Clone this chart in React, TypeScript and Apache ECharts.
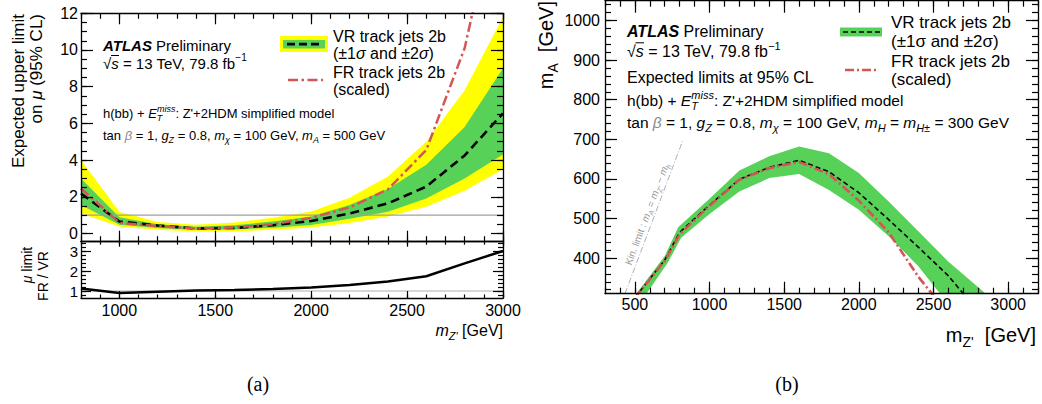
import React, { useEffect, useRef } from 'react';
import * as echarts from 'echarts';

// ---------- Data: panel (a) ----------
const massA = [800, 1000, 1200, 1400, 1600, 1800, 2000, 2200, 2400, 2600, 2800, 3000];
const vrExp = [2.18, 0.65, 0.43, 0.27, 0.3, 0.45, 0.68, 1.09, 1.64, 2.55, 4.25, 6.55];
const vr1Up = [3.0, 0.88, 0.5, 0.36, 0.45, 0.65, 0.92, 1.55, 2.42, 3.75, 5.8, 9.0];
const vr1Dn = [1.55, 0.48, 0.3, 0.19, 0.22, 0.31, 0.46, 0.8, 1.18, 1.9, 3.0, 4.3];
const vr2Up = [4.0, 1.18, 0.62, 0.47, 0.6, 0.85, 1.2, 1.95, 3.1, 5.0, 7.8, 11.8];
const vr2Dn = [1.09, 0.38, 0.2, 0.1, 0.11, 0.2, 0.33, 0.57, 0.93, 1.45, 2.33, 3.5];
const frExp = [2.45, 0.58, 0.4, 0.27, 0.33, 0.5, 0.85, 1.42, 2.4, 4.55, 10.1, 19.5];
const ratio = [1.13, 0.9, 0.96, 1.02, 1.05, 1.1, 1.18, 1.3, 1.47, 1.74, 2.38, 3.0];
const refX = [800, 3000];
const refY = [1, 1];

// ---------- Data: panel (b) ----------
const vrX = [500, 700, 800, 1000, 1200, 1400, 1600, 1800, 2000, 2200, 2400, 2600, 2800];
const vrY = [300, 395, 465, 534, 599, 629, 647, 618, 565, 497, 427, 355, 265];
const outerX = [490, 700, 790, 1000, 1200, 1400, 1600, 1800, 2000, 2200, 2400, 2600, 2800, 3000];
const outerY = [300, 405, 478, 550, 621, 657, 682, 665, 615, 543, 467, 391, 326, 262];
const innerX = [560, 720, 810, 1000, 1200, 1400, 1600, 1800, 2000, 2200, 2400, 2600];
const innerY = [300, 388, 451, 511, 568, 602, 612, 572, 522, 455, 379, 283];
const frX = [500, 700, 800, 1000, 1200, 1400, 1600, 1800, 2000, 2200, 2400, 2500, 2550];
const frY = [300, 393, 460, 532, 598, 627, 643, 612, 545, 465, 352, 305, 280];
const kinX = [434, 824];
const kinY = [310, 700];

// ---------- Ticks ----------
const aXMajor = [1000, 1500, 2000, 2500, 3000];
const aYMajor = [0, 2, 4, 6, 8, 10, 12];
const rYMajor = [1, 2, 3];
const bXMajor = [500, 1000, 1500, 2000, 2500, 3000];
const bYMajor = [400, 500, 600, 700, 800, 900, 1000];

function steps(a: number, b: number, s: number) {
  const r: number[] = [];
  for (let v = a; v <= b + 1e-9; v += s) r.push(Math.round(v * 1000) / 1000);
  return r;
}
const aXMinor = steps(800, 3000, 100);
const aYMinor = steps(0, 12, 0.5);
const rYMinor = steps(0.8, 3.4, 0.2);
const bXMinor = steps(300, 3200, 100);
const bYMinor = steps(320, 1040, 20);

const FONT = "'Liberation Sans', Arial, Helvetica, sans-serif";
const SERIF = "'Liberation Serif', 'DejaVu Serif', serif";
const GREEN = '#58d158';
const YELLOW = '#ffff00';
const RED = '#d45555';

function rich(fs: number, color = '#000', family = FONT, lhk = 1.4) {
  const lh = Math.round(fs * lhk);
  const s = Math.round(fs * 0.68);
  const base = { fontFamily: family, fill: color, color };
  return {
    n: { ...base, fontSize: fs, lineHeight: lh },
    i: { ...base, fontSize: fs, lineHeight: lh, fontStyle: 'italic' },
    b: { ...base, fontSize: fs, lineHeight: lh, fontStyle: 'italic', fontWeight: 'bold' },
    g: { ...base, fontSize: fs, lineHeight: lh, fontStyle: 'italic', fill: '#8a8a8a', color: '#8a8a8a' },
    sub: { ...base, fontSize: s, lineHeight: s, verticalAlign: 'bottom' },
    isub: { ...base, fontSize: s, lineHeight: s, verticalAlign: 'bottom', fontStyle: 'italic' },
    isubz: { ...base, fontSize: s, lineHeight: s, verticalAlign: 'bottom', fontStyle: 'italic', width: 0.1 },
    sup: { ...base, fontSize: s, lineHeight: s, verticalAlign: 'top' },
    isup: { ...base, fontSize: s, lineHeight: s, verticalAlign: 'top', fontStyle: 'italic' },
  };
}

function txt(x: number, y: number, text: string, fs: number, opts: any = {}) {
  const family = opts.family || FONT;
  return {
    type: 'text',
    x,
    y,
    rotation: opts.rotation || 0,
    z: 100,
    silent: true,
    style: {
      text,
      rich: rich(fs, opts.color || '#000', family, opts.lh || 1.4),
      align: opts.align || 'left',
      verticalAlign: opts.verticalAlign || 'middle',
      fontFamily: family,
      fontSize: fs,
      fill: opts.color || '#000',
    },
  };
}

function seg(x1: number, y1: number, x2: number, y2: number, stroke: string, lineWidth: number, lineDash?: number[]) {
  return { type: 'line', z: 102, silent: true, shape: { x1, y1, x2, y2 }, style: { stroke, lineWidth, lineDash } };
}

function axis(grid: number, pos: string, min: number, max: number, ticks: number[], len: number, line: boolean, labels?: number[], lab: any = {}) {
  return {
    type: 'value',
    gridIndex: grid,
    position: pos,
    min,
    max,
    z: 5,
    axisLine: { show: line, onZero: false, lineStyle: { color: '#000', width: 1.3 } },
    axisTick: { show: true, inside: true, length: len, customValues: ticks, lineStyle: { color: '#000', width: 1.2 } },
    axisLabel: labels
      ? {
          show: true,
          customValues: labels,
          formatter: (v: number) => String(v),
          fontSize: lab.fontSize || 16,
          color: '#000',
          fontFamily: FONT,
          margin: lab.margin ?? 4,
        }
      : { show: false },
    splitLine: { show: false },
    minorTick: { show: false },
  };
}

function band(xs: number[], up: number[], xs2: number[], dn: number[], color: string, xi: number, yi: number) {
  return {
    type: 'custom',
    coordinateSystem: 'cartesian2d',
    xAxisIndex: xi,
    yAxisIndex: yi,
    clip: true,
    silent: true,
    z: 1,
    data: [[xs[2], up[2]]],
    renderItem: (_p: any, api: any) => {
      const top = xs.map((x, i) => api.coord([x, up[i]]));
      const bot = xs2.map((x, i) => api.coord([x, dn[i]])).reverse();
      return { type: 'polygon', shape: { points: top.concat(bot) }, style: { fill: color } };
    },
  };
}

function line(xs: number[], ys: number[], xi: number, yi: number, color: string, width: number, type: any) {
  return {
    type: 'line',
    xAxisIndex: xi,
    yAxisIndex: yi,
    data: xs.map((x, i) => [x, ys[i]]),
    symbol: 'none',
    showSymbol: false,
    clip: true,
    silent: true,
    z: 3,
    lineStyle: { color, width, type },
  };
}

const option: any = {
  animation: false,
  backgroundColor: '#fff',
  textStyle: { fontFamily: FONT },
  grid: [
    { left: 81, top: 13.3, width: 422, height: 228.4 },
    { left: 81, top: 241.7, width: 422, height: 56.3 },
    { left: 605, top: 0.7, width: 433, height: 293 },
  ],
  xAxis: [
    axis(0, 'bottom', 800, 3000, aXMajor, 11, true),
    axis(0, 'bottom', 800, 3000, aXMinor, 5.5, false),
    axis(0, 'top', 800, 3000, aXMajor, 11, true),
    axis(0, 'top', 800, 3000, aXMinor, 5.5, false),
    axis(1, 'bottom', 800, 3000, aXMajor, 7, true, aXMajor, { margin: 4 }),
    axis(1, 'bottom', 800, 3000, aXMinor, 3.5, false),
    axis(1, 'top', 800, 3000, aXMajor, 5, true),
    axis(1, 'top', 800, 3000, aXMinor, 3, false),
    axis(2, 'bottom', 300, 3200, bXMajor, 12, true, bXMajor, { margin: 2.5 }),
    axis(2, 'bottom', 300, 3200, bXMinor, 6, false),
    axis(2, 'top', 300, 3200, bXMajor, 12, true),
    axis(2, 'top', 300, 3200, bXMinor, 6, false),
  ],
  yAxis: [
    axis(0, 'left', -0.45, 12, aYMajor, 12, true, aYMajor, { margin: 3 }),
    axis(0, 'left', -0.45, 12, aYMinor, 6, false),
    axis(0, 'right', -0.45, 12, aYMajor, 12, true),
    axis(0, 'right', -0.45, 12, aYMinor, 6, false),
    axis(1, 'left', 0.65, 3.465, rYMajor, 10, true, rYMajor, { margin: 3, fontSize: 15 }),
    axis(1, 'left', 0.65, 3.465, rYMinor, 5, false),
    axis(1, 'right', 0.65, 3.465, rYMajor, 10, true),
    axis(1, 'right', 0.65, 3.465, rYMinor, 5, false),
    axis(2, 'left', 310, 1050, bYMajor, 12, true, bYMajor, { margin: 5 }),
    axis(2, 'left', 310, 1050, bYMinor, 6, false),
    axis(2, 'right', 310, 1050, bYMajor, 12, true),
    axis(2, 'right', 310, 1050, bYMinor, 6, false),
  ],
  series: [
    band(massA, vr2Up, massA, vr2Dn, YELLOW, 0, 0),
    band(massA, vr1Up, massA, vr1Dn, GREEN, 0, 0),
    line(refX, refY, 0, 0, '#a0a0a0', 1.2, 'solid'),
    line(massA, vrExp, 0, 0, '#000', 2.6, [9, 5]),
    line(massA, frExp, 0, 0, RED, 2.5, [10, 3.5, 2.5, 3.5]),
    line(refX, refY, 4, 4, '#b0b0b0', 1.2, 'solid'),
    line(massA, ratio, 4, 4, '#000', 2.5, 'solid'),
    band(outerX, outerY, innerX, innerY, GREEN, 8, 8),
    line(kinX, kinY, 8, 8, '#9a9a9a', 0.8, [6, 2, 1, 2]),
    line(vrX, vrY, 8, 8, '#000', 1.6, [5, 3]),
    line(frX, frY, 8, 8, RED, 2.6, [9, 3, 2, 3]),
  ],
  graphic: [
    // ----- panel (a) texts -----
    txt(103, 45, '{b|ATLAS}{n| Preliminary}', 15),
    txt(103, 63, '{n|√}{i|s}{n| = 13 TeV, 79.8 fb}{sup|−1}', 15),
    seg(111, 55.5, 119, 55.5, '#000', 1),
    txt(103, 113, "{n|h(bb) + }{i|E}{isubz|T}{isup|miss}{n|: Z'+2HDM simplified model}", 13),
    txt(103, 135, '{n|tan }{g|β}{n| = 1, }{i|g}{isub|Z}{n| = 0.8, }{i|m}{isub|χ}{n| = 100 GeV, }{i|m}{isub|A}{n| = 500 GeV}', 13),
    { type: 'rect', z: 100, silent: true, shape: { x: 280, y: 36, width: 48, height: 16 }, style: { fill: YELLOW } },
    { type: 'rect', z: 101, silent: true, shape: { x: 283, y: 40, width: 42, height: 8.5 }, style: { fill: GREEN } },
    seg(287, 44.2, 323, 44.2, '#000', 2.8, [8, 4]),
    seg(288, 80, 323, 80, RED, 2.5, [10, 3.5, 2.5, 3.5]),
    txt(333, 36, '{n|VR track jets 2b}', 16, { lh: 1 }),
    txt(333, 53, '{n|(±1}{i|σ}{n| and ±2}{i|σ}{n|)}', 16, { lh: 1 }),
    txt(333, 72, '{n|FR track jets 2b}', 16, { lh: 1 }),
    txt(333, 89, '{n|(scaled)}', 16, { lh: 1 }),
    txt(18, 14, '{n|Expected upper limit}', 17, { rotation: Math.PI / 2, align: 'right', lh: 1 }),
    txt(36, 14, '{n|on }{i|μ}{n| (95% CL)}', 17, { rotation: Math.PI / 2, align: 'right', lh: 1 }),
    txt(27, 265, '{i|μ}{n| limit}', 14, { rotation: Math.PI / 2, align: 'center', lh: 1 }),
    txt(43, 276, '{n|FR / VR}', 14, { rotation: Math.PI / 2, align: 'center', lh: 1 }),
    txt(503, 330, "{i|m}{isub|Z'}{n| [GeV]}", 16, { align: 'right' }),
    txt(258, 384, '{n|(a)}', 20, { align: 'center', family: SERIF }),
    // ----- panel (b) texts -----
    txt(627, 31, '{b|ATLAS}{n| Preliminary}', 16, { lh: 1 }),
    txt(627, 51, '{n|√}{i|s}{n| = 13 TeV, 79.8 fb}{sup|−1}', 16),
    seg(635.5, 42.8, 644, 42.8, '#000', 1),
    txt(627, 77, '{n|Expected limits at 95% CL}', 16, { lh: 1 }),
    txt(627, 100, "{n|h(bb) + }{i|E}{isubz|T}{isup|miss}{n|: Z'+2HDM simplified model}", 15.5),
    txt(627, 122, '{n|tan }{g|β}{n| = 1, }{i|g}{isub|Z}{n| = 0.8, }{i|m}{isub|χ}{n| = 100 GeV, }{i|m}{isub|H}{n| = }{i|m}{isub|H±}{n| = 300 GeV}', 15.5),
    { type: 'rect', z: 100, silent: true, shape: { x: 840, y: 27.5, width: 42, height: 9 }, style: { fill: GREEN } },
    seg(843, 32, 880, 32, '#000', 1.6, [5, 3]),
    seg(845, 70, 879, 70, RED, 2.6, [9, 3, 2, 3]),
    txt(891, 22, '{n|VR track jets 2b}', 17, { lh: 0.95 }),
    txt(891, 41, '{n|(±1σ and ±2σ)}', 17, { lh: 0.95 }),
    txt(891, 61, '{n|FR track jets 2b}', 17, { lh: 0.95 }),
    txt(891, 79.5, '{n|(scaled)}', 17, { lh: 0.95 }),
    txt(546, 1, '{n|m}{sub|A}{n|  [GeV]}', 20, { rotation: Math.PI / 2, align: 'right' }),
    txt(1036, 335, "{n|m}{sub|Z'}{n|  [GeV]}", 20, { align: 'right' }),
    txt(647, 214, "{n|Kin. limit : }{i|m}{isub|A}{n| = }{i|m}{isub|Z'}{n| − }{i|m}{isub|h}", 10, { rotation: 1.21, align: 'center', color: '#9a9a9a' }),
    txt(787, 384, '{n|(b)}', 20, { align: 'center', family: SERIF }),
  ],
};

export default function App() {
  const ref = useRef<HTMLDivElement>(null);
  useEffect(() => {
    if (!ref.current) return;
    const chart = echarts.init(ref.current, undefined, { renderer: 'svg' });
    chart.setOption(option);
    return () => chart.dispose();
  }, []);
  return (
    <div
      ref={ref}
      style={{ position: 'fixed', left: 0, top: 0, width: 1042, height: 404, background: '#fff' }}
    />
  );
}
